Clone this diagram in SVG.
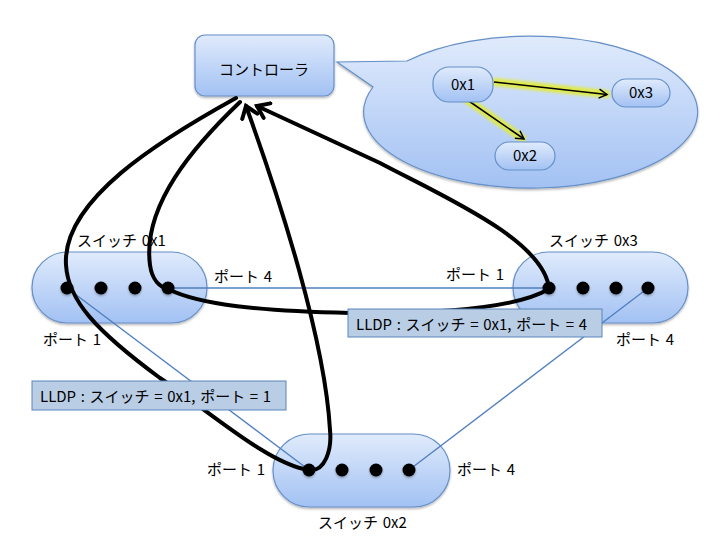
<svg xmlns="http://www.w3.org/2000/svg" width="720" height="540" viewBox="0 0 720 540">
<defs>
<linearGradient id="g" x1="0" y1="0" x2="0" y2="1">
<stop offset="0" stop-color="#e0ebfc"/>
<stop offset="1" stop-color="#a2c1f3"/>
</linearGradient>
<filter id="blur" x="-20%" y="-50%" width="140%" height="200%"><feGaussianBlur stdDeviation="1.5"/></filter>
<filter id="sh" x="-30%" y="-30%" width="160%" height="160%"><feDropShadow dx="0" dy="1.5" stdDeviation="1.2" flood-color="#000" flood-opacity="0.3"/></filter>
<marker id="big" viewBox="-14 -10 18 20" markerWidth="18" markerHeight="20" refX="0" refY="0" orient="auto" markerUnits="userSpaceOnUse">
<path d="M -11 -8 L 0 0 L -11 8" fill="none" stroke="#000" stroke-width="4" stroke-linecap="round" stroke-linejoin="miter"/>
</marker>
<marker id="small" viewBox="-10 -6 12 12" markerWidth="12" markerHeight="12" refX="0" refY="0" orient="auto" markerUnits="userSpaceOnUse">
<path d="M -8 -4.5 L 0 0 L -8 4.5" fill="none" stroke="#000" stroke-width="1.5"/>
</marker>
</defs>
<style>
.node{fill:url(#g);stroke:#6690c8;stroke-width:1.2}
.t{font-family:"Noto Sans CJK JP","Liberation Sans",sans-serif;font-size:15px;fill:#000;word-spacing:1.3px}
.c{text-anchor:middle}
.blue{stroke:#4f7fbf;stroke-width:1.3;fill:none}
.blk{stroke:#000;stroke-width:4;fill:none;stroke-linecap:round}
.dot{fill:#000;filter:url(#sh)}
.lldp{fill:#b9cde5;stroke:#5a85bb;stroke-width:1}
.glow{stroke:#e4ec2c;stroke-width:8;fill:none;stroke-linecap:round;opacity:0.85;filter:url(#blur)}
.thin{stroke:#000;stroke-width:1.6;fill:none}
</style>
<rect width="720" height="540" fill="#fff"/>

<g id="controller">
<rect class="node" x="195" y="35" width="139" height="61" rx="10" filter="url(#sh)"/>
<text class="t c" x="264" y="75">コントローラ</text>
</g>

<g id="callout">
<path class="node" d="M 407 61 L 337 62 L 373 87 A 167 76 0 1 0 407 61 Z" filter="url(#sh)"/>
</g>

<g id="topology-connectors">
<path class="glow" d="M 495 82 L 606 94"/>
<path class="glow" d="M 463 97 L 522 138"/>
<path class="thin" d="M 494 82 L 607 94.5" marker-end="url(#small)"/>
<path class="thin" d="M 463 97 L 524 139" marker-end="url(#small)"/>
</g>

<g id="t0x1">
<rect class="node" x="433" y="67" width="60" height="35" rx="16"/>
<text class="t c" x="463" y="90">0x1</text>
</g>
<g id="t0x3">
<rect class="node" x="612" y="79" width="58" height="28" rx="14"/>
<text class="t c" x="641" y="98">0x3</text>
</g>
<g id="t0x2">
<rect class="node" x="495" y="142" width="60" height="28" rx="14"/>
<text class="t c" x="525" y="161">0x2</text>
</g>

<g id="switch1">
<rect class="node" x="32" y="252" width="175" height="71" rx="35.5" filter="url(#sh)"/>
<text class="t" x="77" y="246">スイッチ 0x1</text>
</g>
<g id="switch3">
<rect class="node" x="513" y="252" width="175" height="71" rx="35.5" filter="url(#sh)"/>
<text class="t" x="549" y="246">スイッチ 0x3</text>
</g>
<g id="switch2">
<rect class="node" x="273" y="434" width="177" height="73" rx="36.5" filter="url(#sh)"/>
<text class="t" x="318" y="528">スイッチ 0x2</text>
</g>

<g id="links">
<path class="blue" d="M 168 288 L 549 288"/>
<path class="blue" d="M 67 288 L 309 470"/>
<path class="blue" d="M 648 288 L 409 470"/>
</g>

<g id="ports">
<circle class="dot" cx="67" cy="288" r="6.5"/>
<circle class="dot" cx="101" cy="288" r="6.5"/>
<circle class="dot" cx="135" cy="288" r="6.5"/>
<circle class="dot" cx="168" cy="288" r="6.5"/>
<circle class="dot" cx="549" cy="288" r="6.5"/>
<circle class="dot" cx="583" cy="288" r="6.5"/>
<circle class="dot" cx="616" cy="288" r="6.5"/>
<circle class="dot" cx="648" cy="288" r="6.5"/>
<circle class="dot" cx="309" cy="470" r="6.5"/>
<circle class="dot" cx="342" cy="470" r="6.5"/>
<circle class="dot" cx="376" cy="470" r="6.5"/>
<circle class="dot" cx="409" cy="470" r="6.5"/>
</g>

<g id="port-labels">
<text class="t" x="214" y="282">ポート 4</text>
<text class="t" x="43" y="345">ポート 1</text>
<text class="t" x="446" y="280">ポート 1</text>
<text class="t" x="616" y="345">ポート 4</text>
<text class="t" x="207" y="475">ポート 1</text>
<text class="t" x="457" y="475">ポート 4</text>
</g>

<g id="packet-in-paths">
<path class="blk" d="M 236 98 C 160 140, 62 200, 66 265 C 68 300, 95 330, 160 378 C 210 412, 270 465, 309 470 C 325 472, 332 450, 330 430 C 325 340, 280 200, 246 106" marker-end="url(#big)"/>
<path class="blk" d="M 240 102 C 195 145, 142 205, 150 265 C 152 280, 160 287, 168 289 C 200 305, 260 311, 350 313 C 450 314, 520 306, 549 289 C 545 240, 440 195, 380 163 L 257 106" marker-end="url(#big)"/>
</g>

<g id="lldp1">
<rect class="lldp" x="32" y="381" width="254" height="29"/>
<text class="t" x="40" y="402">LLDP : スイッチ = 0x1, ポート = 1</text>
</g>
<g id="lldp2">
<rect class="lldp" x="348" y="309" width="254" height="28"/>
<text class="t" x="356" y="330">LLDP : スイッチ = 0x1, ポート = 4</text>
</g>
</svg>
